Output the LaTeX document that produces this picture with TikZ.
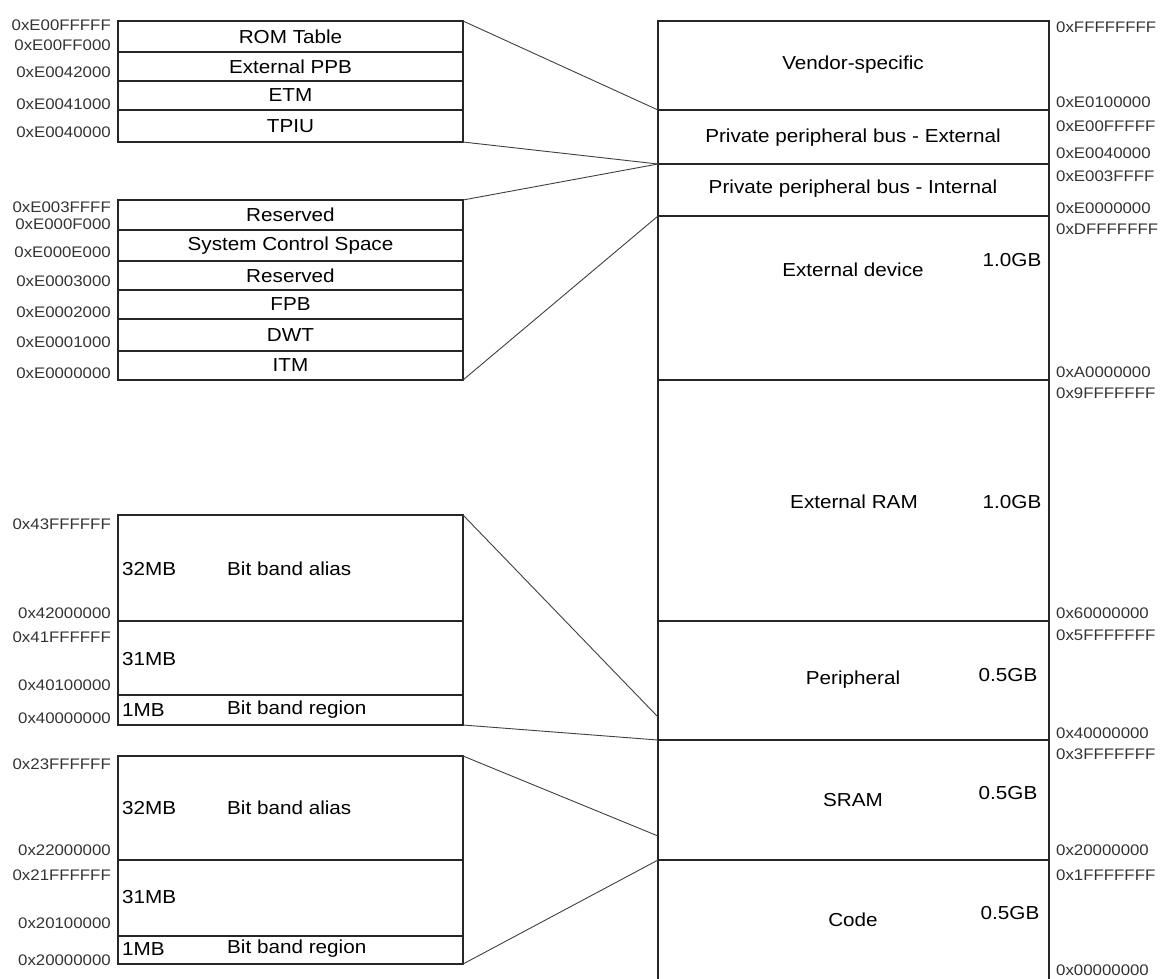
\documentclass[tikz,border=0pt]{standalone}
\usepackage{fontspec}
\setmainfont{Liberation Sans}[FakeStretch=1.1]
\newcommand\mybigfont{\fontsize{18.8}{20}\selectfont}
\newcommand\mysmallfont{\fontsize{15.3}{16}\selectfont}
\begin{document}
\begin{tikzpicture}[x=1pt,y=-1pt,
  box/.style={draw=black!85, line width=1.3pt, inner sep=0pt, outer sep=0pt, anchor=north west, font=\mybigfont},
  big/.style={font=\mybigfont, inner sep=0pt},
  addrl/.style={font=\mysmallfont, inner sep=0pt, anchor=east, text=black!80},
  addrr/.style={font=\mysmallfont, inner sep=0pt, anchor=west, text=black!80},
  link/.style={draw=black!75, line width=0.9pt}]
\useasboundingbox (0,0) rectangle (1160,978);
\fill[white] (0,0) rectangle (1160,978);

% ---------- PPB external detail ----------
\node[box, minimum width=345pt, minimum height=31pt] (rom) at (118,21) {ROM Table};
\node[box, minimum width=345pt, minimum height=29pt] (eppb) at (118,52) {External PPB};
\node[box, minimum width=345pt, minimum height=29pt] (etm) at (118,81) {ETM};
\node[box, minimum width=345pt, minimum height=32pt] (tpiu) at (118,110) {TPIU};

\node[addrl] (a1) at (111,25) {0xE00FFFFF};
\node[addrl] (a2) at (111,45) {0xE00FF000};
\node[addrl] (a3) at (111,72) {0xE0042000};
\node[addrl] (a4) at (111,104) {0xE0041000};
\node[addrl] (a5) at (111,132) {0xE0040000};

% ---------- PPB internal detail ----------
\node[box, minimum width=345pt, minimum height=30pt] (res1) at (118,200) {Reserved};
\node[box, minimum width=345pt, minimum height=31pt] (scs) at (118,230) {System Control Space};
\node[box, minimum width=345pt, minimum height=29pt] (res2) at (118,261) {Reserved};
\node[box, minimum width=345pt, minimum height=29pt] (fpb) at (118,290) {FPB};
\node[box, minimum width=345pt, minimum height=32pt] (dwt) at (118,319) {DWT};
\node[box, minimum width=345pt, minimum height=29pt] (itm) at (118,351) {ITM};

\node[addrl] (b1) at (111,207) {0xE003FFFF};
\node[addrl] (b2) at (111,224) {0xE000F000};
\node[addrl] (b3) at (111,252) {0xE000E000};
\node[addrl] (b4) at (111,281) {0xE0003000};
\node[addrl] (b5) at (111,312) {0xE0002000};
\node[addrl] (b6) at (111,342) {0xE0001000};
\node[addrl] (b7) at (111,373) {0xE0000000};

% ---------- Peripheral bit band ----------
\node[box, minimum width=345pt, minimum height=106pt] (pal) at (118,515) {};
\node[box, minimum width=345pt, minimum height=74pt] (p31) at (118,621) {};
\node[box, minimum width=345pt, minimum height=30pt] (preg) at (118,695) {};
\node[big, anchor=west] (t1) at (122,569) {32MB};
\node[big, anchor=west] (t2) at (227,569) {Bit band alias};
\node[big, anchor=west] (t3) at (122,659) {31MB};
\node[big, anchor=west] (t4) at (122,710) {1MB};
\node[big, anchor=west] (t5) at (227,710) {Bit band region};

\node[addrl] (c1) at (111,524) {0x43FFFFFF};
\node[addrl] (c2) at (111,613) {0x42000000};
\node[addrl] (c3) at (111,637) {0x41FFFFFF};
\node[addrl] (c4) at (111,685) {0x40100000};
\node[addrl] (c5) at (111,718) {0x40000000};

% ---------- SRAM bit band ----------
\node[box, minimum width=345pt, minimum height=104pt] (sal) at (118,756) {};
\node[box, minimum width=345pt, minimum height=76pt] (s31) at (118,860) {};
\node[box, minimum width=345pt, minimum height=28pt] (sreg) at (118,936) {};
\node[big, anchor=west] (u1) at (122,808) {32MB};
\node[big, anchor=west] (u2) at (227,808) {Bit band alias};
\node[big, anchor=west] (u3) at (122,897) {31MB};
\node[big, anchor=west] (u4) at (122,949) {1MB};
\node[big, anchor=west] (u5) at (227,949) {Bit band region};

\node[addrl] (d1) at (111,764) {0x23FFFFFF};
\node[addrl] (d2) at (111,850) {0x22000000};
\node[addrl] (d3) at (111,875) {0x21FFFFFF};
\node[addrl] (d4) at (111,923) {0x20100000};
\node[addrl] (d5) at (111,960) {0x20000000};

% ---------- main memory map ----------
\node[box, minimum width=391pt, minimum height=89pt] (vend) at (658,21) {};
\node[box, minimum width=391pt, minimum height=54pt] (pext) at (658,110) {};
\node[box, minimum width=391pt, minimum height=52pt] (pint) at (658,164) {};
\node[box, minimum width=391pt, minimum height=164pt] (edev) at (658,216) {};
\node[box, minimum width=391pt, minimum height=241pt] (eram) at (658,380) {};
\node[box, minimum width=391pt, minimum height=119pt] (peri) at (658,621) {};
\node[box, minimum width=391pt, minimum height=120pt] (sram) at (658,740) {};
\node[box, minimum width=391pt, minimum height=130pt] (code) at (658,860) {};

\node[big] (v1) at (853,65) {Vendor-specific};
\node[big] (v2) at (853,138) {Private peripheral bus - External};
\node[big] (v3) at (853,189) {Private peripheral bus - Internal};
\node[big] (v4) at (853,270) {External device};
\node[big] (v4s) at (1012,260) {1.0GB};
\node[big] (v5) at (854,502) {External RAM};
\node[big] (v5s) at (1012,502) {1.0GB};
\node[big] (v6) at (853,680) {Peripheral};
\node[big] (v6s) at (1008,675) {0.5GB};
\node[big] (v7) at (853,800) {SRAM};
\node[big] (v7s) at (1008,793) {0.5GB};
\node[big] (v8) at (853,920) {Code};
\node[big] (v8s) at (1010,913) {0.5GB};

\node[addrr] (r1) at (1056,27) {0xFFFFFFFF};
\node[addrr] (r2) at (1056,102) {0xE0100000};
\node[addrr] (r3) at (1056,126) {0xE00FFFFF};
\node[addrr] (r4) at (1056,153) {0xE0040000};
\node[addrr] (r5) at (1056,176) {0xE003FFFF};
\node[addrr] (r6) at (1056,208) {0xE0000000};
\node[addrr] (r7) at (1056,229) {0xDFFFFFFF};
\node[addrr] (r8) at (1056,372) {0xA0000000};
\node[addrr] (r9) at (1056,393) {0x9FFFFFFF};
\node[addrr] (r10) at (1056,613) {0x60000000};
\node[addrr] (r11) at (1056,635) {0x5FFFFFFF};
\node[addrr] (r12) at (1056,733) {0x40000000};
\node[addrr] (r13) at (1056,754) {0x3FFFFFFF};
\node[addrr] (r14) at (1056,850) {0x20000000};
\node[addrr] (r15) at (1056,875) {0x1FFFFFFF};
\node[addrr] (r16) at (1056,970) {0x00000000};

% ---------- connectors ----------
\coordinate (pk) at (658,717);
\coordinate (sk) at (658,836);
\draw[link] (rom.north east) -- (pext.north west);
\draw[link] (tpiu.south east) -- (pint.north west);
\draw[link] (res1.north east) -- (pint.north west);
\draw[link] (itm.south east) -- (edev.north west);
\draw[link] (pal.north east) -- (pk);
\draw[link] (preg.south east) -- (sram.north west);
\draw[link] (sal.north east) -- (sk);
\draw[link] (sreg.south east) -- (code.north west);
\end{tikzpicture}
\end{document}
